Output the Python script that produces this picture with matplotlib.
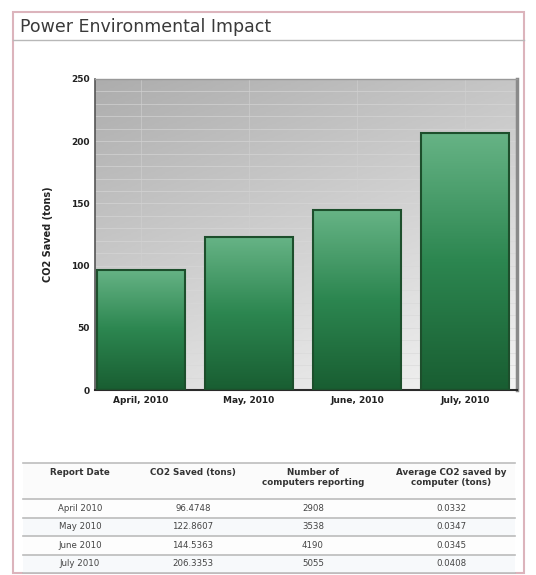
import numpy as np
import matplotlib
matplotlib.use('Agg')
import matplotlib.pyplot as plt
from matplotlib.colors import LinearSegmentedColormap
from matplotlib.patches import Rectangle

# chart data
months = ['April, 2010', 'May, 2010', 'June, 2010', 'July, 2010']
co2_saved = [96.4748, 122.8607, 144.5363, 206.3353]
y_ticks = [0, 50, 100, 150, 200, 250]

# table data
col_headers = ['Report Date', 'CO2 Saved (tons)', 'Number of\ncomputers reporting', 'Average CO2 saved by\ncomputer (tons)']
report_dates = ['April 2010', 'May 2010', 'June 2010', 'July 2010']
co2_text = ['96.4748', '122.8607', '144.5363', '206.3353']
computers = ['2908', '3538', '4190', '5055']
avg_co2 = ['0.0332', '0.0347', '0.0345', '0.0408']

W, H = 536, 575
fig = plt.figure(figsize=(W/100, H/100), dpi=100)
fig.patch.set_facecolor('white')

# page overlay in pixel coordinates
pg = fig.add_axes([0, 0, 1, 1])
pg.set_xlim(0, W)
pg.set_ylim(H, 0)
pg.axis('off')
pg.add_patch(Rectangle((13, 12), 511, 561, fill=False, ec='#dcb4bc', lw=1.5))
pg.plot([13, 524], [40, 40], color='#b8b8b8', lw=1)
pg.text(20, 27, 'Power Environmental Impact', fontsize=12.5, color='#3a3a3a',
        va='center', ha='left')

# chart
ax = fig.add_axes([95/W, 1-390/H, 422/W, 311/H])
xs = np.arange(len(months))
xlim = (-0.426, 3.481)
ax.set_xlim(xlim)
ax.set_ylim(0, 250)

gy, gx = np.mgrid[0:1:200j, 0:1:200j]
grad = 0.65*gy + 0.35*(1-gx)
bg_cmap = LinearSegmentedColormap.from_list('bg', ['#f4f4f4', '#adadad'])
ax.imshow(grad, extent=[xlim[0], xlim[1], 0, 250], origin='lower', aspect='auto',
          cmap=bg_cmap, zorder=0)

for yv in np.arange(10, 250, 10):
    ax.axhline(yv, color='#d8d8d8', lw=0.6, alpha=0.7, zorder=1)
for xv in xs:
    ax.axvline(xv, color='#d0d0d0', lw=0.6, alpha=0.7, zorder=1)

green = LinearSegmentedColormap.from_list('gr', ['#195e32', '#2c8650', '#66b385'])
bar_w = 0.815
bars = ax.bar(xs, co2_saved, width=bar_w, color='none', edgecolor='#1d4f2c',
              lw=1.5, zorder=3)
for b in bars:
    x0 = b.get_x()
    h = b.get_height()
    col = np.linspace(0, 1, 100).reshape(-1, 1)
    im = ax.imshow(col, extent=[x0, x0+bar_w, 0, h], origin='lower', aspect='auto',
                   cmap=green, zorder=2)
    im.set_clip_path(b)

ax.set_xticks(xs)
ax.set_xticklabels(months, fontsize=6.5, fontweight='bold', color='#222')
ax.set_yticks(y_ticks)
ax.set_yticklabels([str(v) for v in y_ticks], fontsize=6.5, fontweight='bold', color='#222')
ax.tick_params(length=0, pad=4)
ax.set_ylabel('CO2 Saved (tons)', fontsize=7, fontweight='bold', color='#222', labelpad=13)

ax.spines['left'].set_color('#555')
ax.spines['left'].set_linewidth(1.2)
ax.spines['bottom'].set_color('#2a2a2a')
ax.spines['bottom'].set_linewidth(1.5)
ax.spines['top'].set_color('#999')
ax.spines['top'].set_linewidth(1)
ax.spines['right'].set_color('#8a8a8a')
ax.spines['right'].set_linewidth(2.5)

# table
tx0, tx1 = 23, 515
col_x = [80, 193, 313, 451]
header_top, header_bot = 463, 499
row_h = 18.5
pg.add_patch(Rectangle((tx0, header_top), tx1-tx0, header_bot-header_top,
                       fc='#fbfbfb', ec='none'))
pg.plot([tx0, tx1], [header_top, header_top], color='#bdbdbd', lw=1.2)
for cx, txt in zip(col_x, col_headers):
    pg.text(cx, header_top+5, txt, fontsize=6.3, fontweight='bold', color='#333',
            ha='center', va='top', linespacing=1.1)

rows = list(zip(report_dates, co2_text, computers, avg_co2))
for i, row in enumerate(rows):
    y0 = header_bot + i*row_h
    pg.add_patch(Rectangle((tx0, y0), tx1-tx0, row_h,
                           fc='#f7f9fb' if i % 2 else '#fdfdfd', ec='none'))
    pg.plot([tx0, tx1], [y0, y0], color='#bcbcbc', lw=1.2)
    for cx, txt in zip(col_x, row):
        pg.text(cx, y0+row_h/2, txt, fontsize=6.2, color='#444', ha='center', va='center')
pg.plot([tx0, tx1], [header_bot+len(rows)*row_h]*2, color='#bcbcbc', lw=1.2)

fig.savefig('out.png', dpi=100)
